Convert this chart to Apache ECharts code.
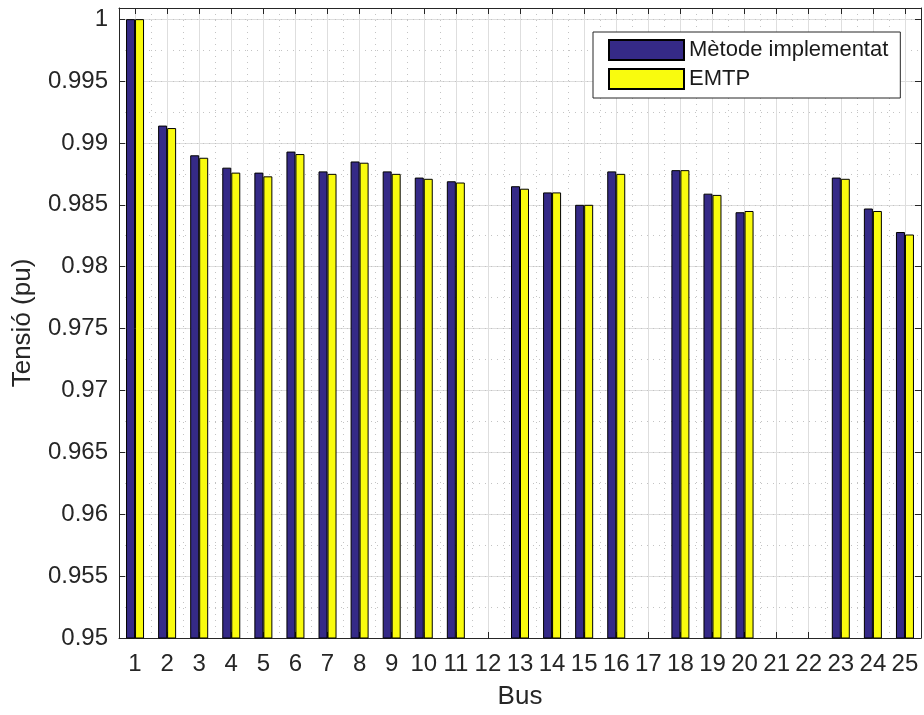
<!DOCTYPE html>
<html>
<head>
<meta charset="utf-8">
<script src="https://cdn.jsdelivr.net/npm/echarts@6/dist/echarts.min.js"></script>
<style>
  html, body { margin: 0; padding: 0; background: #fff; }
  #chart { width: 924px; height: 715px; }
</style>
</head>
<body>
<div id="chart"></div>
<script>
  // buses 1..25
  const buses = ['1', '2', '3', '4', '5', '6', '7', '8', '9', '10', '11', '12', '13',
    '14', '15', '16', '17', '18', '19', '20', '21', '22', '23', '24', '25']
  // voltage (pu), no bar drawn for 12, 17, 21, 22
  const metode = [1.0000, 0.9914, 0.9890, 0.9880, 0.9876, 0.9893, 0.9877, 0.9885, 0.9877, 0.9872,
    0.9869, null, 0.9865, 0.9860, 0.9850, 0.9877, null, 0.9878, 0.9859, 0.9844,
    null, null, 0.9872, 0.9847, 0.9828]
  const emtp = [1.0000, 0.9912, 0.9888, 0.9876, 0.9873, 0.9891, 0.9875, 0.9884, 0.9875, 0.9871,
    0.9868, null, 0.9863, 0.9860, 0.9850, 0.9875, null, 0.9878, 0.9858, 0.9845,
    null, null, 0.9871, 0.9845, 0.9826]
  const yMin = 0.95
  const yMax = 1.0009
  const yStep = 0.005

  const font = 'Liberation Sans, Arial, Helvetica, sans-serif'
  const textColor = '#262626'
  const frameColor = '#262626'

  const chart = echarts.init(document.getElementById('chart'), null, { renderer: 'canvas' })

  chart.setOption({
    animation: false,
    backgroundColor: '#fff',
    textStyle: { fontFamily: font },
    grid: { left: 119, right: 3, top: 8, bottom: 72 },
    legend: {
      orient: 'vertical',
      left: 593,
      top: 32,
      padding: [7, 12, 8, 15],
      itemGap: 7,
      itemWidth: 75,
      itemHeight: 20,
      icon: 'rect',
      borderColor: frameColor,
      borderWidth: 1,
      backgroundColor: '#fff',
      textStyle: { fontSize: 22, color: '#1a1a1a', fontFamily: font },
      data: ['Mètode implementat', 'EMTP']
    },
    xAxis: [
      {
        type: 'category',
        data: buses,
        position: 'bottom',
        name: 'Bus',
        nameLocation: 'middle',
        nameGap: 46,
        nameTextStyle: { fontSize: 26, color: textColor, fontFamily: font },
        axisLine: { show: true, lineStyle: { color: frameColor, width: 1 } },
        axisTick: { show: true, inside: true, length: 6, alignWithLabel: true, interval: 0,
          lineStyle: { color: frameColor } },
        axisLabel: { fontSize: 24, color: textColor, margin: 14, interval: 0, fontFamily: font },
        // major grid through the bus centres
        splitLine: { show: true, alignWithLabel: true, interval: 0,
          lineStyle: { color: '#dedede', width: 1 } }
      },
      {
        type: 'category',
        data: buses,
        position: 'top',
        axisLine: { show: true, lineStyle: { color: frameColor, width: 1 } },
        axisTick: { show: true, inside: true, length: 6, alignWithLabel: true, interval: 0,
          lineStyle: { color: frameColor } },
        axisLabel: { show: false },
        // minor dotted grid between buses
        splitLine: { show: true, interval: 0,
          lineStyle: { color: '#c4c4c4', width: 1, type: [1, 5] } }
      }
    ],
    yAxis: [
      {
        type: 'value',
        position: 'left',
        min: yMin,
        max: yMax,
        interval: yStep,
        name: 'Tensió (pu)',
        nameLocation: 'middle',
        nameGap: 83,
        nameTextStyle: { fontSize: 26, color: textColor, fontFamily: font },
        axisLine: { show: true, lineStyle: { color: frameColor, width: 1 } },
        axisTick: { show: true, inside: true, length: 6, lineStyle: { color: frameColor } },
        axisLabel: {
          fontSize: 24, color: textColor, margin: 11, fontFamily: font,
          formatter: function (v) {
            const k = v / yStep
            if (Math.abs(k - Math.round(k)) > 1e-6) return ''
            return String(parseFloat(v.toFixed(3)))
          }
        },
        splitLine: { show: true, lineStyle: { color: '#dedede', width: 1 } }
      },
      {
        type: 'value',
        position: 'right',
        min: yMin,
        max: yMax,
        interval: yStep,
        axisLine: { show: true, lineStyle: { color: frameColor, width: 1 } },
        axisTick: { show: true, inside: true, length: 6, lineStyle: { color: frameColor } },
        axisLabel: { show: false },
        splitLine: { show: false }
      },
      {
        // minor dotted grid
        type: 'value',
        position: 'left',
        min: yMin,
        max: yMax,
        interval: yStep / 2,
        axisLine: { show: false },
        axisTick: { show: false },
        axisLabel: { show: false },
        splitLine: { show: true, lineStyle: { color: '#c4c4c4', width: 1, type: [1, 5] } }
      }
    ],
    series: [
      {
        name: 'Mètode implementat',
        type: 'bar',
        xAxisIndex: 0,
        yAxisIndex: 0,
        barWidth: 9,
        barGap: '0%',
        itemStyle: { color: '#352a87', borderColor: '#000', borderWidth: 1 },
        data: metode
      },
      {
        name: 'EMTP',
        type: 'bar',
        xAxisIndex: 0,
        yAxisIndex: 0,
        barWidth: 9,
        barGap: '0%',
        itemStyle: { color: '#f9fb0e', borderColor: '#000', borderWidth: 1 },
        data: emtp
      }
    ]
  })
</script>
</body>
</html>
